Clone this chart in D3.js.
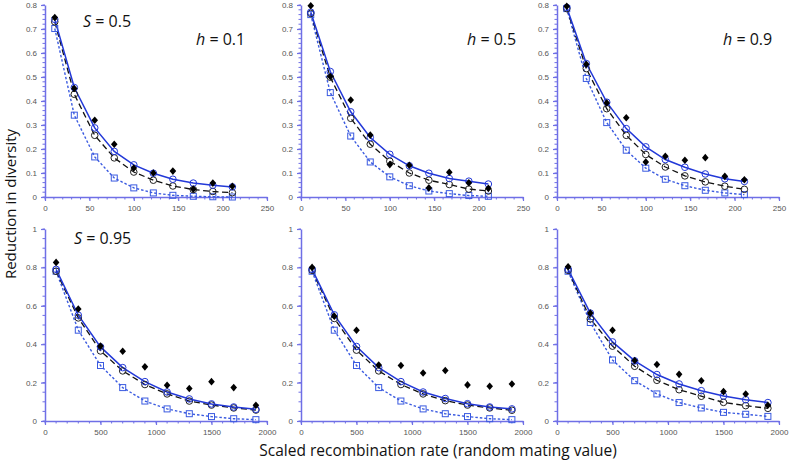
<!DOCTYPE html>
<html>
<head>
<meta charset="utf-8">
<script src="https://cdn.jsdelivr.net/npm/d3@7"></script>
<style>
    body { margin: 0; background: #fff; }
    svg { display: block; }
</style>
</head>
<body>
<svg id="chart"></svg>
<script>
(function() {

    // x values (top row: 0-250, bottom row: 0-2000)
    const xTop = [11, 33, 56, 78, 100, 122, 144, 167, 189, 211];
    const xBottom = [100, 300, 500, 700, 900, 1100, 1300, 1500, 1700, 1900];

    // panels in reading order: S=0.5 (h=0.1, 0.5, 0.9), S=0.95 (h=0.1, 0.5, 0.9)
    const hLabels = ['h = 0.1', 'h = 0.5', 'h = 0.9'];
    const sLabels = ['S = 0.5', 'S = 0.95'];

    // black filled diamonds
    const diamondVals = [
        [0.748, 0.452, 0.32, 0.22, 0.121, 0.10, 0.108, 0.033, 0.058, 0.045],
        [0.797, 0.502, 0.404, 0.258, 0.135, 0.132, 0.038, 0.103, 0.059, 0.036],
        [0.795, 0.553, 0.392, 0.33, 0.146, 0.17, 0.153, 0.164, 0.086, 0.072],
        [0.826, 0.583, 0.39, 0.363, 0.282, 0.186, 0.169, 0.205, 0.174, 0.082],
        [0.80, 0.546, 0.473, 0.292, 0.289, 0.25, 0.263, 0.188, 0.181, 0.193],
        [0.803, 0.562, 0.473, 0.315, 0.294, 0.243, 0.21, 0.153, 0.141, 0.082]
    ];

    // black open circles, dashed line
    const dashedVals = [
        [0.73, 0.428, 0.257, 0.163, 0.104, 0.07, 0.046, 0.031, 0.023, 0.018],
        [0.765, 0.499, 0.328, 0.22, 0.149, 0.10, 0.07, 0.052, 0.033, 0.025],
        [0.785, 0.535, 0.368, 0.257, 0.177, 0.125, 0.088, 0.063, 0.045, 0.032],
        [0.78, 0.537, 0.365, 0.261, 0.19, 0.141, 0.104, 0.083, 0.068, 0.057],
        [0.785, 0.534, 0.369, 0.261, 0.19, 0.141, 0.106, 0.083, 0.068, 0.056],
        [0.785, 0.532, 0.39, 0.285, 0.212, 0.163, 0.129, 0.097, 0.08, 0.066]
    ];

    // blue open circles, solid line
    const solidVals = [
        [0.74, 0.456, 0.288, 0.19, 0.134, 0.099, 0.074, 0.058, 0.049, 0.042],
        [0.77, 0.523, 0.355, 0.248, 0.178, 0.13, 0.099, 0.077, 0.066, 0.054],
        [0.79, 0.556, 0.395, 0.285, 0.209, 0.156, 0.124, 0.096, 0.076, 0.065],
        [0.79, 0.551, 0.386, 0.278, 0.205, 0.151, 0.115, 0.089, 0.073, 0.061],
        [0.79, 0.553, 0.388, 0.278, 0.205, 0.151, 0.117, 0.09, 0.073, 0.063],
        [0.79, 0.562, 0.412, 0.313, 0.242, 0.193, 0.158, 0.13, 0.111, 0.096]
    ];

    // blue open squares, dotted line
    const dottedVals = [
        [0.702, 0.341, 0.167, 0.079, 0.038, 0.017, 0.007, 0.003, 0.001, 0.0],
        [0.76, 0.435, 0.254, 0.146, 0.084, 0.047, 0.025, 0.014, 0.006, 0.003],
        [0.785, 0.494, 0.31, 0.195, 0.12, 0.074, 0.047, 0.028, 0.017, 0.01],
        [0.78, 0.473, 0.289, 0.174, 0.104, 0.063, 0.038, 0.023, 0.012, 0.007],
        [0.78, 0.473, 0.289, 0.174, 0.104, 0.063, 0.038, 0.023, 0.012, 0.007],
        [0.78, 0.513, 0.318, 0.21, 0.141, 0.096, 0.068, 0.045, 0.035, 0.024]
    ];

    const w = 791;
    const h = 464;

    const colLeft = [45, 301, 557];
    const plotW = 222;
    const rowTop = [5, 229];
    const plotH = 192;

    const axisColor = '#6f6fe6';
    const blue = '#2238d8';
    const blueSq = '#3a5ae0';
    const labelFont = '"Open Sans", sans-serif';

    // wider diamond than d3.symbolDiamond
    const diamondPath = 'M0,-3.8L3.3,0L0,3.8L-3.3,0Z';

    const svg = d3.select('#chart')
        .attr('width', w)
        .attr('height', h);

    for (let p = 0; p < 6; p++) {

        const row = Math.floor(p / 3);
        const col = p % 3;
        const xs = row === 0 ? xTop : xBottom;
        const xMax = row === 0 ? 250 : 2000;
        const yMax = row === 0 ? 0.8 : 1;

        const x = d3.scaleLinear().domain([0, xMax]).range([colLeft[col], colLeft[col] + plotW]);
        const y = d3.scaleLinear().domain([0, yMax]).range([rowTop[row] + plotH, rowTop[row]]);

        const g = svg.append('g');

        // minor ticks
        const xMinor = d3.range(0, xMax + 0.001, row === 0 ? 10 : 100);
        const yMinor = d3.range(0, yMax + 0.0001, row === 0 ? 0.02 : 0.05);

        const xAxis = d3.axisBottom(x)
            .tickValues(d3.range(0, xMax + 1, row === 0 ? 50 : 500))
            .tickFormat(d3.format('d'))
            .tickSize(4)
            .tickSizeOuter(0)
            .tickPadding(4);

        const yAxis = d3.axisLeft(y)
            .tickValues(d3.range(0, yMax + 0.0001, row === 0 ? 0.1 : 0.2))
            .tickFormat(d => d === 0 ? '0' : (d === 1 ? '1' : d3.format('.1f')(d)))
            .tickSize(4)
            .tickSizeOuter(0)
            .tickPadding(4);

        g.append('g')
            .attr('transform', `translate(0, ${y(0)})`)
            .selectAll('line')
            .data(xMinor)
            .enter().append('line')
            .attr('x1', d => x(d)).attr('x2', d => x(d))
            .attr('y1', 0).attr('y2', 2.5)
            .attr('stroke', axisColor);

        g.append('g')
            .attr('transform', `translate(${x(0)}, 0)`)
            .selectAll('line')
            .data(yMinor)
            .enter().append('line')
            .attr('y1', d => y(d)).attr('y2', d => y(d))
            .attr('x1', 0).attr('x2', -2.5)
            .attr('stroke', axisColor);

        const gx = g.append('g')
            .attr('transform', `translate(0, ${y(0)})`)
            .call(xAxis);

        const gy = g.append('g')
            .attr('transform', `translate(${x(0)}, 0)`)
            .call(yAxis);

        [gx, gy].forEach(a => {
            a.select('.domain').attr('stroke', axisColor).attr('stroke-width', 1.5);
            a.selectAll('.tick line').attr('stroke', axisColor).attr('stroke-width', 1.2);
            a.selectAll('.tick text')
                .attr('fill', '#555')
                .style('font-family', '"Liberation Sans", Arial, sans-serif')
                .style('font-size', '8px');
        });

        const pts = arr => xs.map((xv, i) => [xv, arr[p][i]]);
        const line = d3.line().x(d => x(d[0])).y(d => y(d[1]));

        // dotted blue line with squares
        g.append('path')
            .datum(pts(dottedVals))
            .attr('d', line)
            .attr('fill', 'none')
            .attr('stroke', blueSq)
            .attr('stroke-width', 1.4)
            .attr('stroke-dasharray', '2.5,2');

        // dashed black line with circles
        g.append('path')
            .datum(pts(dashedVals))
            .attr('d', line)
            .attr('fill', 'none')
            .attr('stroke', '#111')
            .attr('stroke-width', 1.3)
            .attr('stroke-dasharray', '6,3.5');

        // solid blue line with circles
        g.append('path')
            .datum(pts(solidVals))
            .attr('d', line)
            .attr('fill', 'none')
            .attr('stroke', blue)
            .attr('stroke-width', 1.5);

        g.selectAll('.sq')
            .data(pts(dottedVals))
            .enter().append('rect')
            .attr('class', 'sq')
            .attr('x', d => x(d[0]) - 3)
            .attr('y', d => y(d[1]) - 3)
            .attr('width', 6)
            .attr('height', 6)
            .attr('fill', 'none')
            .attr('stroke', blueSq)
            .attr('stroke-width', 1);

        g.selectAll('.bc')
            .data(pts(dashedVals))
            .enter().append('circle')
            .attr('class', 'bc')
            .attr('cx', d => x(d[0]))
            .attr('cy', d => y(d[1]))
            .attr('r', 3.3)
            .attr('fill', 'none')
            .attr('stroke', '#222')
            .attr('stroke-width', 1);

        g.selectAll('.uc')
            .data(pts(solidVals))
            .enter().append('circle')
            .attr('class', 'uc')
            .attr('cx', d => x(d[0]))
            .attr('cy', d => y(d[1]))
            .attr('r', 3.3)
            .attr('fill', 'none')
            .attr('stroke', blue)
            .attr('stroke-width', 1);

        g.selectAll('.dm')
            .data(pts(diamondVals))
            .enter().append('path')
            .attr('class', 'dm')
            .attr('transform', d => `translate(${x(d[0])}, ${y(d[1])})`)
            .attr('d', diamondPath)
            .attr('fill', '#000');

        // panel annotations
        if (row === 0) {
            const t = g.append('text')
                .attr('x', colLeft[col] + (col === 0 ? 151 : 166))
                .attr('y', 45)
                .style('font-family', labelFont)
                .style('font-size', '16px')
                .attr('fill', '#111');
            t.append('tspan').style('font-style', 'italic').text('h');
            t.append('tspan').text(hLabels[col].slice(1));
        }
        if (col === 0) {
            const t = g.append('text')
                .attr('x', row === 0 ? 83 : 74)
                .attr('y', row === 0 ? 27 : 244)
                .style('font-family', labelFont)
                .style('font-size', '16px')
                .attr('fill', '#111');
            t.append('tspan').style('font-style', 'italic').text('S');
            t.append('tspan').text(sLabels[row].slice(1));
        }
    }

    // Axis titles
    svg.append('text')
        .attr('transform', 'translate(16, 204) rotate(-90)')
        .attr('text-anchor', 'middle')
        .style('font-family', labelFont)
        .style('font-size', '15px')
        .attr('fill', '#111')
        .text('Reduction in diversity');

    svg.append('text')
        .attr('x', 438)
        .attr('y', 456)
        .attr('text-anchor', 'middle')
        .style('font-family', labelFont)
        .style('font-size', '15.5px')
        .attr('fill', '#111')
        .text('Scaled recombination rate (random mating value)');

})();
</script>
</body>
</html>
